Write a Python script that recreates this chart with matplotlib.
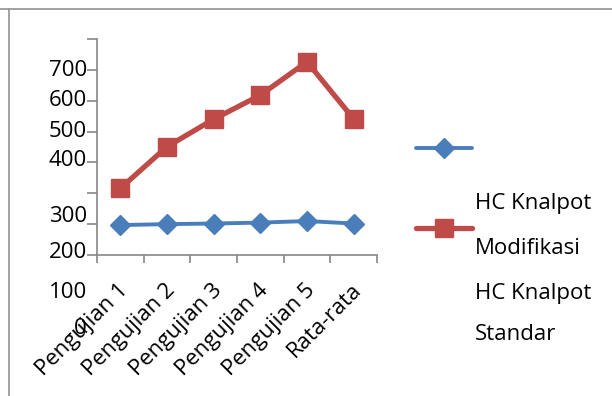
import matplotlib

matplotlib.use("Agg")
import matplotlib.pyplot as plt
from matplotlib.lines import Line2D
from matplotlib.transforms import ScaledTranslation

# HC readings per test run, on the 0-700 scale of the tick marks
categories = ["Pengujian 1", "Pengujian 2", "Pengujian 3",
              "Pengujian 4", "Pengujian 5", "Rata-rata"]
hc_blue = [97, 100, 102, 105, 110, 102]
hc_red = [216, 351, 440, 518, 626, 441]

# y labels as they sit beside the axis (text, pixel row from top)
ylabel_text = ["700", "600", "500", "400", "300", "200", "100", "0"]
ylabel_rows = [70, 101, 131, 161, 217, 253, 292, 328]

legend_lines = ["HC Knalpot", "Modifikasi", "HC Knalpot", "Standar"]
legend_rows = [203, 248, 293, 335]

BLUE = "#4A7EBB"
RED = "#BE4B48"
AXIS = "#868686"
W, H = 612, 396
FS = 16

plt.rcParams["font.family"] = ["Open Sans", "DejaVu Sans"]
fig = plt.figure(figsize=(W / 100, H / 100), dpi=100)
fig.patch.set_facecolor("white")

# chart frame: top and left edges visible
fig.add_artist(Line2D([0, 1], [1 - 9 / H, 1 - 9 / H], transform=fig.transFigure,
                      color="#9a9a9a", lw=1.3))
fig.add_artist(Line2D([9 / W, 9 / W], [0, 1 - 9 / H], transform=fig.transFigure,
                      color="#9a9a9a", lw=1.3))

ax = fig.add_axes([97 / W, 1 - 255 / H, (377 - 97) / W, (255 - 39) / H])
xs = [i + 0.5 for i in range(len(categories))]
ax.plot(xs, hc_blue, color=BLUE, lw=2.8, marker="D", ms=10.5, mec=BLUE,
        solid_capstyle="round")
ax.plot(xs, hc_red, color=RED, lw=3.8, marker="s", ms=13.5, mec=RED,
        solid_joinstyle="miter")

ax.set_xlim(0, len(categories))
ax.set_ylim(0, 700)
for side in ("top", "right"):
    ax.spines[side].set_visible(False)
for side in ("left", "bottom"):
    ax.spines[side].set_color(AXIS)
    ax.spines[side].set_linewidth(1.2)

ax.set_yticks(range(0, 701, 100))
ax.set_yticklabels([])
ax.tick_params(axis="y", length=7, width=1.2, color=AXIS)

ax.set_xticks(range(len(categories) + 1), minor=True)
ax.tick_params(axis="x", which="minor", length=6, width=1.2, color=AXIS)
ax.set_xticks(xs)
ax.set_xticklabels(categories, fontsize=FS)
ax.tick_params(axis="x", which="major", length=0, pad=23)
shift = ScaledTranslation(5 / 100, 0, fig.dpi_scale_trans)
for lab in ax.get_xticklabels():
    lab.set_rotation(45)
    lab.set_rotation_mode("anchor")
    lab.set_ha("right")
    lab.set_va("center")
    lab.set_transform(lab.get_transform() + shift)

for txt, row in zip(ylabel_text, ylabel_rows):
    fig.text(87 / W, 1 - row / H, txt, fontsize=FS, ha="right", va="center")

# legend keys
for color, row, mk, ms, lw in ((BLUE, 148, "D", 10, 2.8), (RED, 228, "s", 13, 3.8)):
    fig.add_artist(Line2D([416 / W, 444 / W, 472 / W], [1 - row / H] * 3,
                          transform=fig.transFigure, color=color, lw=lw,
                          marker=mk, ms=ms, mec=color, markevery=[1],
                          solid_capstyle="round"))
for txt, row in zip(legend_lines, legend_rows):
    fig.text(475 / W, 1 - row / H, txt, fontsize=FS, ha="left", va="center")

fig.savefig("out.png", dpi=100)
